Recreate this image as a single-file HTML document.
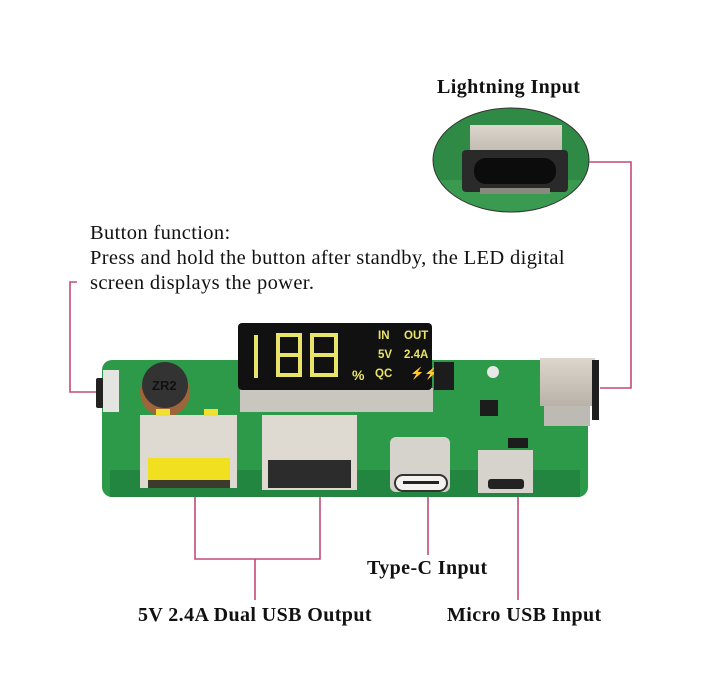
<!DOCTYPE html>
<html><head><meta charset="utf-8"><style>
html,body{margin:0;padding:0;background:#fff;}
body{width:725px;height:699px;overflow:hidden;position:relative;font-family:"Liberation Serif",serif;color:#111;}
.t{position:absolute;font-size:20.5px;white-space:nowrap;letter-spacing:0.35px;}
.b{font-weight:bold;font-size:20px;letter-spacing:0.4px;}
svg{position:absolute;left:0;top:0;}
</style></head><body>
<svg width="725" height="699" viewBox="0 0 725 699">
<defs>
<clipPath id="ec"><ellipse cx="511" cy="160" rx="78" ry="52"/></clipPath>
<linearGradient id="metal" x1="0" y1="0" x2="0" y2="1"><stop offset="0" stop-color="#ddd6cc"/><stop offset="1" stop-color="#b9b2a8"/></linearGradient>
</defs>
<g clip-path="url(#ec)">
<rect x="430" y="105" width="165" height="115" fill="#2f8a45"/>
<rect x="430" y="180" width="165" height="40" fill="#3a9a50"/>
<rect x="470" y="125" width="92" height="35" fill="url(#metal)"/>
<rect x="462" y="150" width="106" height="42" rx="4" fill="#2a2a2a"/>
<rect x="474" y="158" width="82" height="26" rx="12" fill="#0c0c0c"/>
<rect x="480" y="188" width="70" height="6" fill="#8a8a80"/>
</g>
<ellipse cx="511" cy="160" rx="78" ry="52" fill="none" stroke="#333" stroke-width="1"/>
<g stroke="#c24a78" stroke-width="1.6" fill="none">
<polyline points="77,282 70,282 70,392 96,392"/>
<polyline points="589,162 631,162 631,388 600,388"/>
<polyline points="195,485 195,559 320,559 320,490"/>
<line x1="255" y1="559" x2="255" y2="600"/>
<line x1="428" y1="490" x2="428" y2="555"/>
<line x1="518" y1="490" x2="518" y2="600"/>
</g>
<rect x="102" y="360" width="486" height="137" rx="10" fill="#2d9a4a"/>
<rect x="110" y="470" width="470" height="27" fill="#228540"/>
<rect x="96" y="378" width="8" height="30" rx="2" fill="#222"/>
<rect x="103" y="370" width="16" height="42" fill="#e4e4e0"/>
<circle cx="165" cy="392" r="25" fill="#a0643a"/>
<circle cx="165" cy="385" r="23" fill="#333"/>
<text x="152" y="390" font-family="Liberation Sans" font-size="13" fill="#111" font-weight="bold">ZR2</text>
<rect x="240" y="388" width="193" height="24" fill="#c9c6c0"/>
<rect x="238" y="323" width="194" height="67" rx="4" fill="#111"/>
<g fill="none" stroke="#e8e46a" stroke-width="4">
<path d="M256,335 L256,378"/>
<path d="M278,335 h22 v40 h-22 z M278,355 h22"/>
<path d="M312,335 h24 v40 h-24 z M312,355 h24"/>
</g>
<text x="352" y="380" font-family="Liberation Sans" font-size="14" fill="#e8e46a" font-weight="bold">%</text>
<g font-family="Liberation Sans" font-size="11.5" fill="#e8e46a" font-weight="bold">
<text x="378" y="339">IN</text><text x="404" y="339">OUT</text>
<text x="378" y="358">5V</text><text x="404" y="358">2.4A</text>
<text x="375" y="377">QC</text><text x="410" y="377">⚡⚡</text>
</g>
<rect x="434" y="362" width="20" height="28" fill="#1c1c1c"/>
<rect x="480" y="400" width="18" height="16" fill="#1c1c1c"/>
<rect x="508" y="438" width="20" height="10" fill="#1c1c1c"/>
<circle cx="493" cy="372" r="6" fill="#e8e8e8"/>
<rect x="540" y="358" width="55" height="48" fill="url(#metal)"/>
<rect x="592" y="360" width="7" height="60" fill="#1e1e1e"/>
<rect x="544" y="406" width="46" height="20" fill="#bdbab4"/>
<rect x="140" y="415" width="97" height="73" fill="#dedad2"/>
<rect x="148" y="458" width="82" height="22" fill="#f0e020"/>
<rect x="148" y="480" width="82" height="8" fill="#3c3a2c"/>
<rect x="156" y="409" width="14" height="7" fill="#f0e030"/><rect x="204" y="409" width="14" height="7" fill="#f0e030"/>
<rect x="262" y="415" width="95" height="75" fill="#dedad2"/>
<rect x="268" y="460" width="83" height="28" fill="#2c2c2c"/>
<rect x="390" y="437" width="60" height="55" rx="6" fill="#d6d2cc"/>
<rect x="395" y="475" width="52" height="16" rx="8" fill="#f4f2ee" stroke="#333" stroke-width="2"/>
<rect x="403" y="481" width="36" height="3" fill="#222"/>
<rect x="478" y="450" width="55" height="43" fill="#d6d2cc"/>
<rect x="488" y="479" width="36" height="10" rx="3" fill="#222"/>
</svg>
<div class="t b" style="left:437px;top:76px;">Lightning Input</div>
<div class="t" style="left:90px;top:222px;">Button function:</div>
<div class="t" style="left:90px;top:247px;">Press and hold the button after standby, the LED digital</div>
<div class="t" style="left:90px;top:272px;">screen displays the power.</div>
<div class="t b" style="left:367px;top:557px;">Type-C Input</div>
<div class="t b" style="left:138px;top:604px;">5V 2.4A Dual USB Output</div>
<div class="t b" style="left:447px;top:604px;">Micro USB Input</div>
</body></html>
